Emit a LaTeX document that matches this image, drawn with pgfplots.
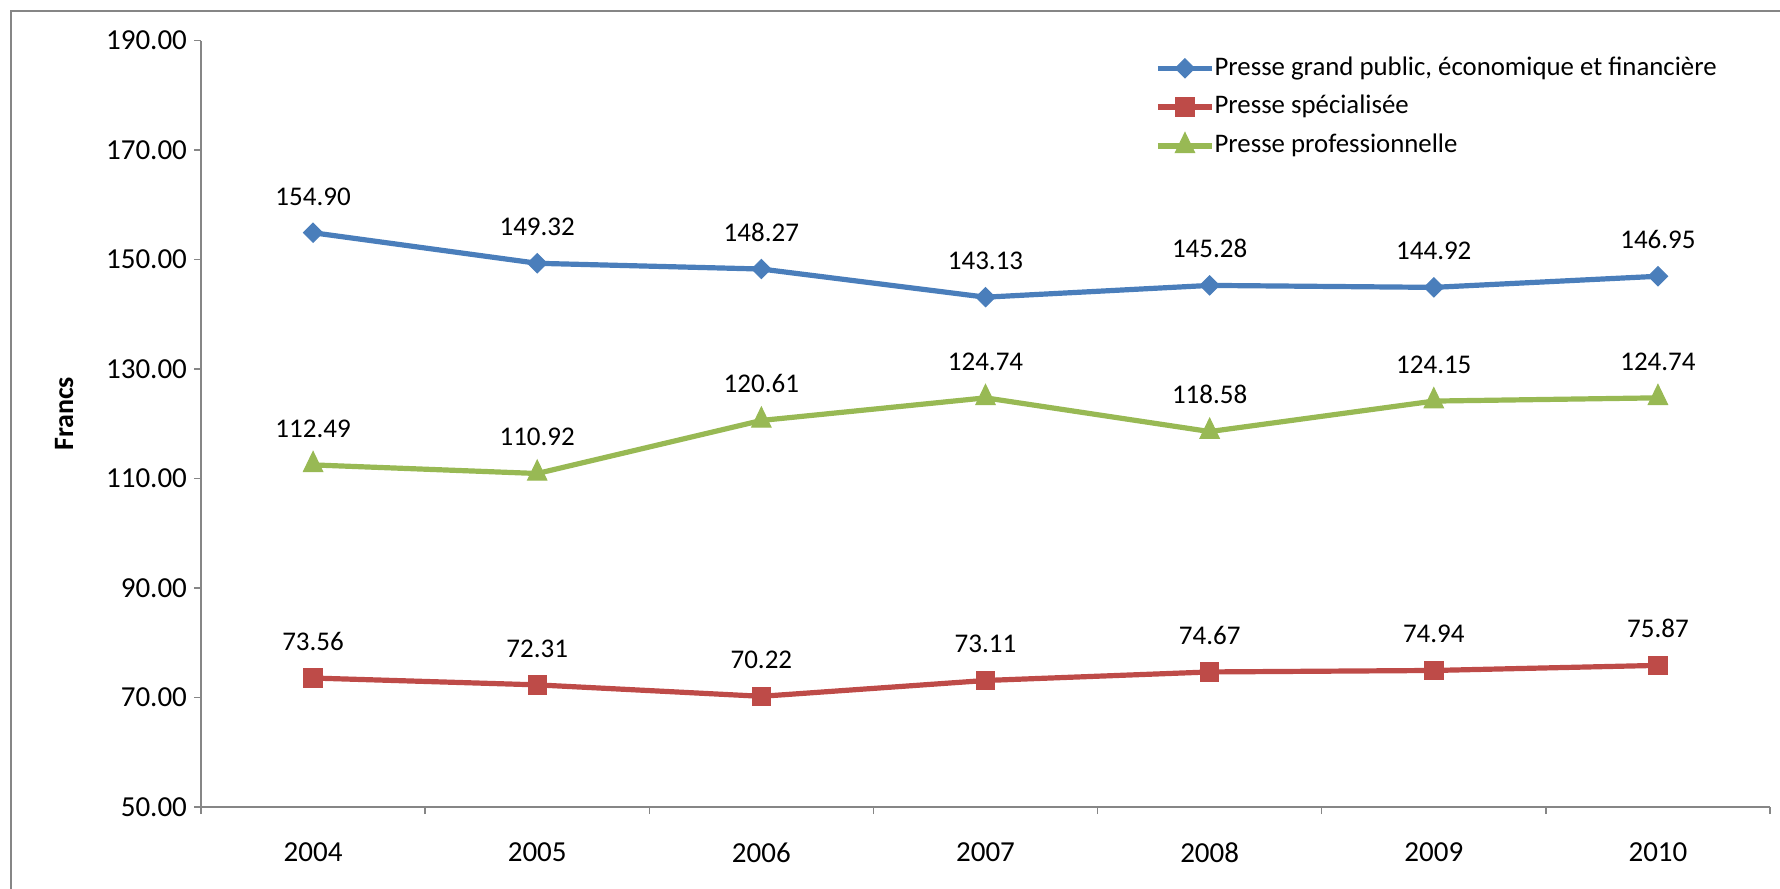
\documentclass[border=0pt]{standalone}
\usepackage{pgfplots}
\pgfplotsset{compat=1.18}
\usepackage{fontspec}
\setmainfont{Carlito}
\definecolor{sblue}{RGB}{74,126,187}
\definecolor{sred}{RGB}{190,75,72}
\definecolor{sgreen}{RGB}{152,185,84}
\definecolor{axgray}{RGB}{134,134,134}
\begin{document}
\begin{tikzpicture}[x=1pt,y=1pt]
\useasboundingbox (0,0) rectangle (890,444);
\draw[axgray, line width=0.65pt] (5.5,-2) -- (5.5,438.5) -- (892,438.5);
\begin{axis}[
  at={(100.5pt,40.5pt)}, anchor=south west,
  scale only axis, width=784.5pt, height=383.2pt,
  xmin=-0.5, xmax=6.5, ymin=50, ymax=190,
  ytick={50,70,...,190},
  axis x line*=bottom, axis y line*=left,
  axis line style={axgray, line width=0.65pt},
  tick style={axgray, line width=0.65pt},
  tick align=outside, major tick length=3.5pt,
  xtick={-0.5,0.5,...,6.5}, xticklabels={},
  extra x ticks={0,1,2,3,4,5,6},
  extra x tick labels={2004,2005,2006,2007,2008,2009,2010},
  extra x tick style={major tick length=0pt, xticklabel style={yshift=-14.3pt}},
  /pgf/number format/assume math mode=true,
  yticklabel={\pgfmathprintnumber[fixed,fixed zerofill,precision=2]{\tick}},
  tick label style={font=\fontsize{14.5}{17}\selectfont, black},
  ylabel={\textbf{Francs}},
  every axis y label/.style={at={(axis description cs:-0.0873,0.513)}, rotate=90, anchor=center, font=\fontsize{14}{16}\selectfont},
  clip=false,
  nodes near coords={\pgfmathprintnumber[fixed,fixed zerofill,precision=2,assume math mode=true]{\pgfplotspointmeta}},
  every node near coord/.append style={font=\fontsize{13.5}{16}\selectfont, black, anchor=south, inner sep=0pt, yshift=13.5pt},
  legend style={at={(axis description cs:0.608,0.9813)}, anchor=north west, draw=none, fill=none, inner sep=0pt,
    row sep=6.3pt, font=\fontsize{13.4}{16}\selectfont,
    nodes={text height=10pt, text depth=3pt, inner sep=0pt, anchor=west}},
  legend cell align=left,
  legend image code/.code={\draw[mark repeat=2,mark phase=2,#1] plot coordinates {(0pt,0pt) (13.5pt,0pt) (27pt,0pt)};},
]
\addplot[sblue, line width=2.6pt, mark=square*, mark size=3.4pt, mark options={rotate=45, solid, line width=0.5pt}]
  coordinates {(0,154.90) (1,149.32) (2,148.27) (3,143.13) (4,145.28) (5,144.92) (6,146.95)};
\addlegendentry{Presse grand public, économique et financière}
\addplot[sred, line width=2.6pt, mark=square*, mark size=4.6pt, mark options={solid, line width=0.5pt}]
  coordinates {(0,73.56) (1,72.31) (2,70.22) (3,73.11) (4,74.67) (5,74.94) (6,75.87)};
\addlegendentry{Presse spécialisée}
\addplot[sgreen, line width=2.6pt, mark=triangle*, mark size=5.6pt, mark options={solid, line width=0.5pt, yscale=1.2}]
  coordinates {(0,112.49) (1,110.92) (2,120.61) (3,124.74) (4,118.58) (5,124.15) (6,124.74)};
\addlegendentry{Presse professionnelle}
\end{axis}
\end{tikzpicture}
\end{document}
